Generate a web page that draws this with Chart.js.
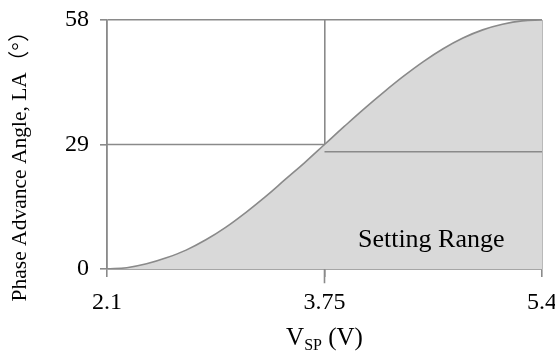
<!DOCTYPE html>
<html>
<head>
<meta charset="utf-8">
<script src="https://cdn.jsdelivr.net/npm/chart.js@4.4.1/dist/chart.umd.min.js"></script>
<style>
  html, body { margin: 0; padding: 0; background: #fff; overflow: hidden; }
  canvas { display: block; }
</style>
</head>
<body>
<canvas id="chart" width="555" height="354"></canvas>
<script>
// voltage (V) and phase advance angle (deg)
const vsp = [2.1, 2.25, 2.4, 2.55, 2.7, 2.85, 3.0, 3.15, 3.3, 3.45, 3.6, 3.75,
             3.9, 4.05, 4.2, 4.35, 4.5, 4.65, 4.8, 4.95, 5.1, 5.25, 5.4];
const angle = [0, 0.3, 1.2, 2.6, 4.4, 6.8, 9.7, 13.1, 16.8, 20.8, 24.8, 29,
               33.2, 37.3, 41.2, 44.9, 48.3, 51.3, 53.8, 55.7, 57.0, 57.8, 58];
const xTicks = [2.1, 3.75, 5.4];
const yTicks = [0, 29, 58];
const midV = 3.75;
const midAngle = 29;
const rangeTop = 27.3;
const rangeLabel = 'Setting Range';
const yTitle = 'Phase Advance Angle, LA\uFF08\u00B0\uFF09';

const LINE = '#8a8a8a';
const FILL = '#d9d9d9';
const SERIF = '"Liberation Serif", serif';

const curve = vsp.map((v, i) => ({ x: v, y: angle[i] }));

const titlesPlugin = {
  id: 'titles',
  afterDraw(chart) {
    const ctx = chart.ctx;
    const area = chart.chartArea;
    ctx.save();
    ctx.fillStyle = '#000';
    ctx.textBaseline = 'alphabetic';

    // setting range label
    ctx.font = '26px ' + SERIF;
    ctx.textAlign = 'center';
    const xs = chart.scales.x;
    ctx.fillText(rangeLabel, (xs.getPixelForValue(midV) + xs.getPixelForValue(5.4)) / 2 - 2, 247);

    // x title with subscript
    ctx.textAlign = 'left';
    const big = '25px ' + SERIF, small = '16px ' + SERIF;
    ctx.font = big; const wV = ctx.measureText('V').width;
    const wRest = ctx.measureText(' (V)').width;
    ctx.font = small; const wSub = ctx.measureText('SP').width;
    let x0 = (area.left + area.right) / 2 - (wV + wSub + wRest) / 2;
    const base = 345;
    ctx.font = big; ctx.fillText('V', x0, base);
    ctx.font = small; ctx.fillText('SP', x0 + wV, base + 5);
    ctx.font = big; ctx.fillText(' (V)', x0 + wV + wSub, base);

    // y title, rotated
    ctx.translate(26, 161);
    ctx.rotate(-Math.PI / 2);
    ctx.textAlign = 'center';
    ctx.font = '21.5px ' + SERIF + ', "Noto Sans CJK JP"';
    ctx.fillText(yTitle, 0, 0);
    ctx.restore();
  }
};

new Chart(document.getElementById('chart'), {
  type: 'line',
  data: {
    datasets: [
      {
        data: curve,
        borderColor: LINE,
        borderWidth: 1.6,
        backgroundColor: FILL,
        fill: 'origin',
        pointRadius: 0,
        tension: 0.4,
        order: 5
      },
      {
        data: [{ x: xTicks[0], y: midAngle }, { x: midV, y: midAngle }],
        borderColor: LINE, borderWidth: 1.6, pointRadius: 0, fill: false, order: 1
      },
      {
        data: [{ x: midV, y: rangeTop }, { x: 5.4, y: rangeTop }],
        borderColor: LINE, borderWidth: 1.6, pointRadius: 0, fill: false, order: 1
      },
      {
        // longer tick under the 3.75 line
        data: [{ x: midV, y: 0 }, { x: midV, y: -3.3 }],
        borderColor: LINE, borderWidth: 1.6, pointRadius: 0, fill: false, clip: false, order: 1
      }
    ]
  },
  options: {
    responsive: false,
    animation: false,
    layout: { padding: { left: 0, right: 0, top: 20, bottom: 0 } },
    plugins: {
      legend: { display: false },
      tooltip: { enabled: false }
    },
    scales: {
      x: {
        type: 'linear',
        min: 2.1,
        max: 5.4,
        afterBuildTicks: s => { s.ticks = xTicks.map(v => ({ value: v })); },
        afterFit: s => { s.height = 85; s.paddingLeft = 0; s.paddingRight = 13; },
        grid: {
          color: LINE,
          lineWidth: 1.6,
          tickLength: 8,
          drawOnChartArea: true
        },
        border: { color: LINE, width: 1.6 },
        ticks: {
          color: '#000',
          font: { family: SERIF, size: 24 },
          padding: 11,
          maxRotation: 0,
          callback: v => String(v)
        }
      },
      y: {
        min: 0,
        max: 58,
        afterBuildTicks: s => { s.ticks = yTicks.map(v => ({ value: v })); },
        afterFit: s => { s.width = 107; s.paddingTop = 0; s.paddingBottom = 0; },
        grid: {
          color: ctx => (ctx.tick && ctx.tick.value === midAngle) ? 'rgba(0,0,0,0)' : LINE,
          tickColor: LINE,
          lineWidth: 1.6,
          tickLength: 7,
          drawOnChartArea: true
        },
        border: { color: LINE, width: 1.6 },
        ticks: {
          color: '#000',
          font: { family: SERIF, size: 24 },
          padding: 11
        }
      }
    }
  },
  plugins: [titlesPlugin]
});
</script>
</body>
</html>
